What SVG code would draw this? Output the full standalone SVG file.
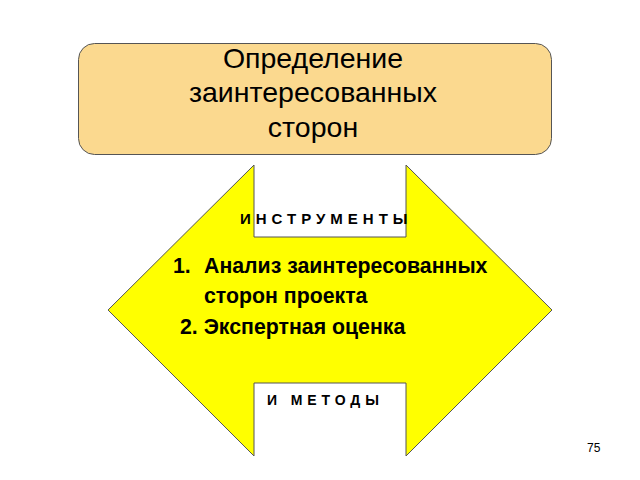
<svg xmlns="http://www.w3.org/2000/svg" width="640" height="480" viewBox="0 0 640 480">
<style>
.t{font-family:"Liberation Sans",Arial,sans-serif;fill:#000}
.h{font-size:28.5px;text-anchor:middle}
.b{font-weight:bold;font-size:21.3px}
.s{font-weight:bold}
</style>
<rect width="640" height="480" fill="#fff"/>
<g id="title">
<rect x="78.5" y="43.5" width="473" height="111" rx="16" fill="#fbd98f" stroke="#555" stroke-width="1"/>
<text class="t h" x="313" y="68">Определение</text>
<text class="t h" x="313" y="102">заинтересованных</text>
<text class="t h" x="313" y="137">сторон</text>
</g>
<g id="arrow">
<polygon points="108,310 254,165 254,237 406,237 406,165 552,310 406,456 406,383 254,383 254,456" fill="#ffff00" stroke="#555" stroke-width="1"/>
<text class="t s" x="240" y="224" font-size="15" letter-spacing="5">ИНСТРУМЕНТЫ</text>
<text class="t b" x="173" y="273">1.</text>
<text class="t b" x="204" y="273">Анализ заинтересованных</text>
<text class="t b" x="204" y="303">сторон проекта</text>
<text class="t b" x="180" y="334">2. Экспертная оценка</text>
<text class="t s" x="267" y="405" font-size="14" letter-spacing="4.9">И МЕТОДЫ</text>
</g>
<g id="page">
<text class="t" x="587" y="452" font-size="12">75</text>
</g>
</svg>
